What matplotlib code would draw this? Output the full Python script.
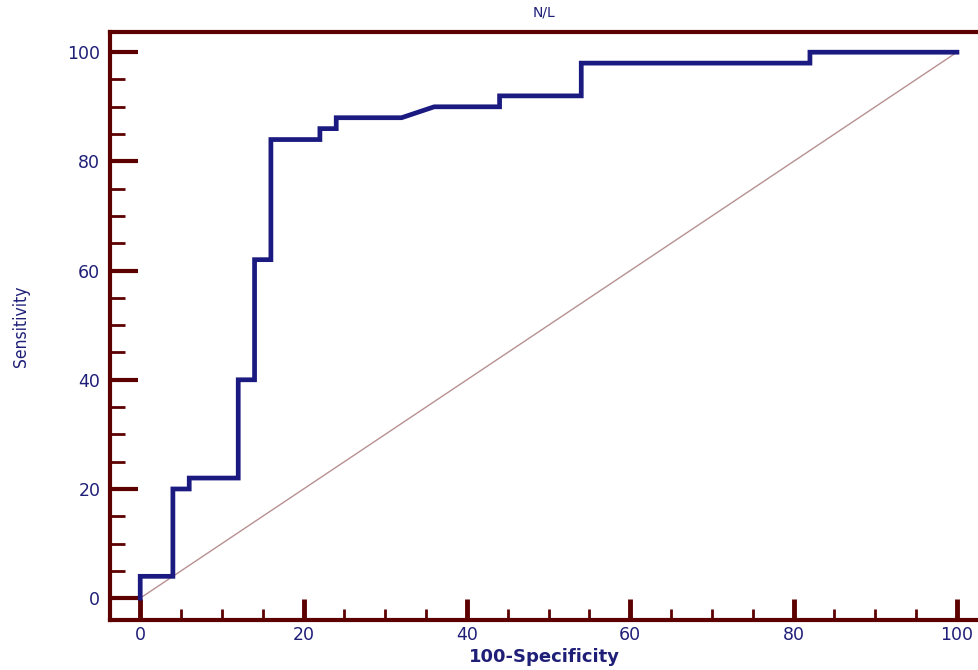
import matplotlib.pyplot as plt
from matplotlib.ticker import MultipleLocator

# ROC curve for N/L
fpr = [0, 0, 4, 4, 6, 6, 12, 12, 14, 14, 16, 16, 22, 22, 24, 24, 32, 36, 44, 44, 54, 54, 82, 82, 100]
tpr = [0, 4, 4, 20, 20, 22, 22, 40, 40, 62, 62, 84, 84, 86, 86, 88, 88, 90, 90, 92, 92, 98, 98, 100, 100]
diag = [0, 100]

spine_col = '#5c0000'
text_col = '#1f1f78'

fig = plt.figure(figsize=(9.79, 6.70), dpi=100)
ax = fig.add_axes([110 / 979, 50 / 670, 869 / 979, 588 / 670])

ax.plot(diag, diag, color='#b89090', lw=1.0)
ax.plot(fpr, tpr, color='#1a1a80', lw=3.4, solid_joinstyle='miter')

ax.set_xlim(-3.7, 102.7)
ax.set_ylim(-4, 103.7)

for s in ['left', 'bottom', 'top']:
    ax.spines[s].set_color(spine_col)
    ax.spines[s].set_linewidth(3)
ax.spines['right'].set_visible(False)

ax.xaxis.set_major_locator(MultipleLocator(20))
ax.xaxis.set_minor_locator(MultipleLocator(5))
ax.yaxis.set_major_locator(MultipleLocator(20))
ax.yaxis.set_minor_locator(MultipleLocator(5))

ax.tick_params(axis='x', which='major', direction='in', length=15, width=3.5,
               color=spine_col, labelcolor=text_col, labelsize=12.5, pad=4)
ax.tick_params(axis='x', which='minor', direction='in', length=8, width=2, color=spine_col)
ax.tick_params(axis='y', which='major', direction='in', length=20, width=3,
               color=spine_col, labelcolor=text_col, labelsize=12.5, pad=7)
ax.tick_params(axis='y', which='minor', direction='in', length=11, width=2, color=spine_col)

ax.set_xlabel('100-Specificity', color=text_col, fontsize=13, fontweight='bold', labelpad=3)
ax.set_ylabel('Sensitivity', color=text_col, fontsize=12.5, fontstretch='condensed',
              family=['Liberation Sans Narrow', 'DejaVu Sans'], labelpad=27)
ax.set_title('N/L', color=text_col, fontsize=10, pad=11)

fig.savefig('out.png', dpi=100)
